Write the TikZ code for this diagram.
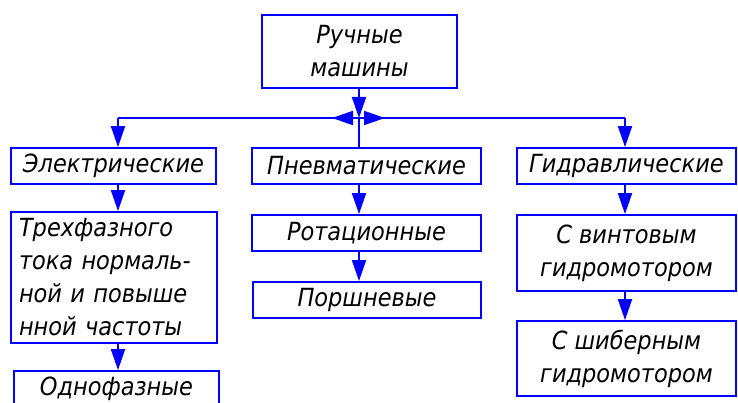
\documentclass[tikz,border=0pt]{standalone}
\usepackage{fontspec}
\setmainfont{DejaVu Sans Condensed}
\usetikzlibrary{arrows.meta}

\begin{document}
\begin{tikzpicture}[x=1pt,y=-1pt]
	\useasboundingbox (0,0) rectangle (738,403);
	\tikzstyle{every node}=[draw=blue,line width=1.8pt,shape=rectangle,inner sep=2pt,font=\itshape\fontsize{25}{33}\selectfont,align=center];
	\tikzstyle{arr}=[blue,line width=1.8pt,-{Triangle[length=21pt,width=14pt]}];
	\node[minimum width=195,minimum height=73] (ruch) at (359.5,51.5) {Ручные\\машины};
	\node[minimum width=205,minimum height=36] (elec) at (113.5,166) {Электрические};
	\node[minimum width=229,minimum height=36] (pneu) at (366.5,166) {Пневматические};
	\node[minimum width=219,minimum height=36] (gidr) at (626.5,166) {Гидравлические};
	\node[minimum width=206,minimum height=131,align=left,text width=190] (tref) at (114,277.5) {Трехфазного\\тока нормаль-\\ной и повыше\\нной частоты};
	\node[minimum width=205,minimum height=36] (odno) at (116.5,389) {Однофазные};
	\node[minimum width=229,minimum height=36] (rot) at (366.5,233) {Ротационные};
	\node[minimum width=228,minimum height=36] (porsh) at (367,300) {Поршневые};
	\node[minimum width=219,minimum height=76] (vint) at (626.5,253) {С винтовым\\гидромотором};
	\node[minimum width=219,minimum height=75] (shib) at (626.5,358.5) {С шиберным\\гидромотором};
	\coordinate (hub) at (359,118);
	\coordinate (busl) at (118,118);
	\coordinate (busr) at (625,118);
	\draw[blue,line width=1.8pt]
	(busl) -- (busr)
	(hub) -- (pneu.north -| hub);
	\draw[arr] (ruch.south -| hub) -- (hub);
	\draw[arr] (hub) -- ++(-27,0);
	\draw[arr] (hub) -- ++(26,0);
	
	\draw[arr] (busl) -- (elec.north -| busl);
	\draw[arr] (elec.south -| busl) -- (tref.north -| busl);
	\draw[arr] (tref.south -| busl) -- (odno.north -| busl);
	\draw[arr] (pneu.south -| hub) -- (rot.north -| hub);
	\draw[arr] (rot.south -| hub) -- (porsh.north -| hub);
	\draw[arr] (busr) -- (gidr.north -| busr);
	\draw[arr] (gidr.south -| busr) -- (vint.north -| busr);
	\draw[arr] (vint.south -| busr) -- (shib.north -| busr);
\end{tikzpicture}
\end{document}
